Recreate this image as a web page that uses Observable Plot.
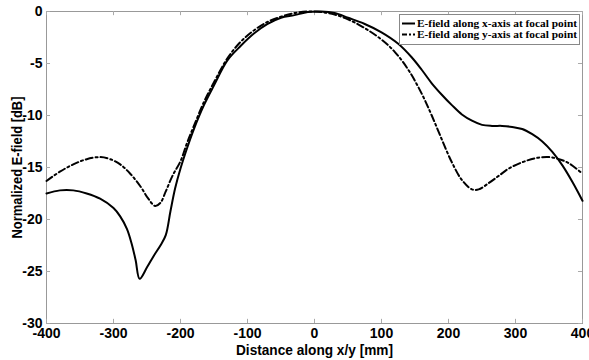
<!DOCTYPE html>
<html>
<head>
<meta charset="utf-8">
<script src="https://cdn.jsdelivr.net/npm/d3@7"></script>
<script src="https://cdn.jsdelivr.net/npm/@observablehq/plot@0.6"></script>
<style>
  body { margin: 0; background: #fff; }
  #wrap { position: relative; width: 589px; height: 360px; }
  #wrap svg { overflow: visible; }
</style>
</head>
<body>
<div id="wrap"></div>
<script>
// ---- data ----
const seriesNames = ["E-field along x-axis at focal point", "E-field along y-axis at focal point"];
const xAxisDist = [-400,-380,-360,-340,-320,-300,-290,-280,-273,-267,-261,-250,-240,-230,-222,-215,-208,-200,-190,-180,-165,-150,-130,-110,-90,-70,-50,-30,-10,10,30,50,75,100,125,145,160,175,190,205,220,235,250,265,280,295,310,325,340,355,370,385,400];
const xAxisField = [-17.5,-17.2,-17.2,-17.5,-18.0,-18.9,-19.7,-20.9,-22.3,-23.9,-25.7,-24.6,-23.5,-22.5,-21.5,-19.2,-17.0,-15.1,-13.1,-11.3,-9.0,-7.1,-4.7,-3.3,-2.1,-1.2,-0.6,-0.35,-0.05,0,-0.15,-0.6,-1.2,-2.0,-3.1,-4.4,-5.6,-6.9,-8.0,-9.0,-9.9,-10.5,-10.9,-11.0,-11.0,-11.1,-11.3,-11.8,-12.5,-13.5,-14.8,-16.4,-18.2];
const yAxisDist = [-400,-380,-360,-340,-320,-305,-290,-275,-260,-248,-238,-230,-222,-212,-200,-190,-180,-165,-150,-130,-110,-90,-70,-50,-30,-10,10,30,50,75,100,120,140,160,175,190,205,220,235,245,260,275,290,310,330,350,365,380,400];
const yAxisField = [-16.3,-15.4,-14.7,-14.2,-14.0,-14.2,-14.7,-15.6,-16.8,-18.0,-18.7,-18.4,-17.3,-15.8,-14.4,-12.6,-11.0,-8.7,-6.8,-4.5,-2.9,-1.8,-1.0,-0.5,-0.15,0,-0.05,-0.3,-0.75,-1.6,-2.7,-3.9,-5.6,-7.9,-10.0,-12.3,-14.5,-16.2,-17.1,-17.1,-16.5,-15.8,-15.1,-14.5,-14.1,-14.0,-14.2,-14.6,-15.6];
const xTicks = [-400,-300,-200,-100,0,100,200,300,400];
const yTicks = [-30,-25,-20,-15,-10,-5,0];
const xLabel = "Distance along x/y [mm]";
const yLabel = "Normalized E-field [dB]";

const rowsX = xAxisDist.map((d, i) => ({d, v: xAxisField[i]}));
const rowsY = yAxisDist.map((d, i) => ({d, v: yAxisField[i]}));

const narrow = "'Liberation Sans Narrow', 'Arial Narrow', 'Liberation Sans', Arial, sans-serif";

const chart = Plot.plot({
  width: 589,
  height: 360,
  marginLeft: 46,
  marginRight: 7,
  marginTop: 11,
  marginBottom: 37,
  style: {fontFamily: narrow, fontWeight: "bold", fontSize: "14px", color: "#000", background: "#fff"},
  x: {domain: [-400, 400]},
  y: {domain: [-30, 0]},
  marks: [
    Plot.frame({stroke: "#999"}),
    // inward ticks (bottom / top / left / right)
    Plot.ruleX(xTicks, {x: d => d, y1: -30, y2: -29.6, stroke: "#aaa"}),
    Plot.ruleX(xTicks, {x: d => d, y1: 0, y2: -0.4, stroke: "#aaa"}),
    Plot.ruleY(yTicks, {y: d => d, x1: -400, x2: -394, stroke: "#aaa"}),
    Plot.ruleY(yTicks, {y: d => d, x1: 400, x2: 394, stroke: "#aaa"}),
    Plot.axisX(xTicks, {tickSize: 0, tickPadding: 5, tickFormat: d => String(d), label: xLabel, labelAnchor: "center", labelOffset: 31, labelArrow: "none", fontSize: 14}),
    Plot.axisY(yTicks, {tickSize: 0, tickPadding: 4, tickFormat: d => String(d), label: yLabel, labelAnchor: "center", labelOffset: 35, labelArrow: "none", fontSize: 14}),
    Plot.line(rowsY, {x: "d", y: "v", stroke: "#000", strokeWidth: 2, strokeDasharray: "7,3,2,3", curve: "catmull-rom"}),
    Plot.line(rowsX, {x: "d", y: "v", stroke: "#000", strokeWidth: 2, curve: "catmull-rom"})
  ]
});
document.getElementById("wrap").appendChild(chart);

// fit axis titles to reference widths
d3.select(chart).selectAll("text").each(function() {
  const t = this.textContent;
  if (t === xLabel) { d3.select(this).attr("textLength", 157).attr("lengthAdjust", "spacingAndGlyphs").style("font-size", "15px"); }
  if (t === yLabel) { d3.select(this).attr("textLength", 142).attr("lengthAdjust", "spacingAndGlyphs").style("font-size", "15px"); }
});

// legend inside the plot area
const lg = d3.select("#wrap").append("svg")
  .attr("width", 181).attr("height", 31)
  .style("position", "absolute").style("left", "399px").style("top", "14px");
lg.append("rect").attr("x", 0.5).attr("y", 0.5).attr("width", 180).attr("height", 30)
  .attr("fill", "#fff").attr("stroke", "#888");
const dashes = [null, "5,2,2,2"];
seriesNames.forEach((name, i) => {
  const cy = 9.5 + i * 11;
  lg.append("line").attr("x1", 3).attr("x2", 16).attr("y1", cy).attr("y2", cy)
    .attr("stroke", "#000").attr("stroke-width", 2).attr("stroke-dasharray", dashes[i]);
  lg.append("text").attr("x", 18).attr("y", cy).attr("dy", "0.35em")
    .attr("font-family", "'Liberation Serif', 'Times New Roman', serif").attr("font-weight", "bold")
    .attr("font-size", 11).attr("textLength", 160).attr("lengthAdjust", "spacingAndGlyphs")
    .text(name);
});
</script>
</body>
</html>
